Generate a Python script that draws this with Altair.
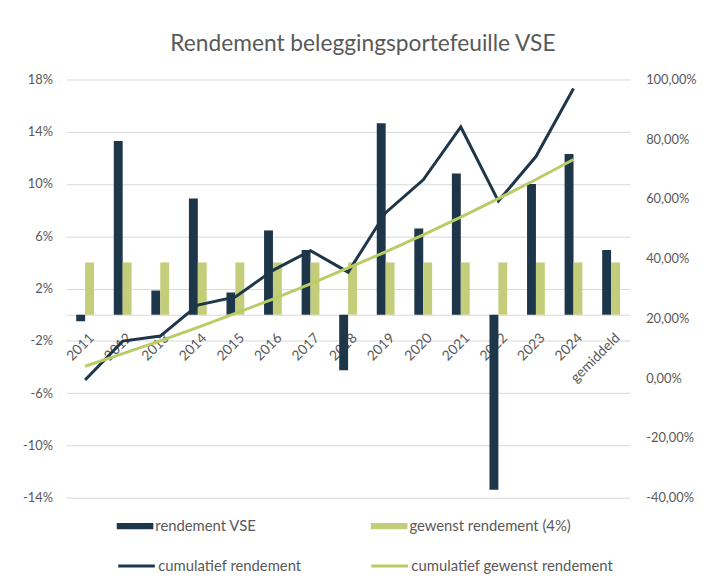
import altair as alt
import pandas as pd

years = ["2011", "2012", "2013", "2014", "2015", "2016", "2017", "2018",
         "2019", "2020", "2021", "2022", "2023", "2024", "gemiddeld"]
rendement_vse = [-0.5, 13.3, 1.85, 8.9, 1.7, 6.45, 4.95, -4.25,
                 14.65, 6.6, 10.8, -13.4, 10.0, 12.3, 4.95]
gewenst = [4.0, 4.0, 4.0, 4.0, 4.0, 4.0, 4.0, 4.0,
           4.0, 4.0, 4.0, 4.0, 4.0, 4.0, 4.0]
line_years = years[:14]
cum_rendement = [-0.6, 12.4, 14.1, 24.5, 27.2, 36.1, 42.7, 35.5,
                 55.4, 66.4, 84.1, 59.3, 74.2, 97.0]
cum_gewenst = [4.0, 8.2, 12.5, 17.0, 21.7, 26.5, 31.6, 36.9,
               42.3, 48.0, 53.9, 60.1, 66.5, 73.2]

bar_series = ["rendement VSE", "gewenst rendement (4%)"]
line_series = ["cumulatief rendement", "cumulatief gewenst rendement"]
left_ticks = [-14, -10, -6, -2, 2, 6, 10, 14, 18]
right_ticks = [-40, -20, 0, 20, 40, 60, 80, 100]

NAVY = "#1d3649"
GREEN_BAR = "#c4ce7a"
GREEN_LINE = "#b9cc66"
GREY = "#595959"
FONT = "Lato"

bars = pd.DataFrame(
    [{"jaar": y, "reeks": bar_series[0], "waarde": v} for y, v in zip(years, rendement_vse)]
    + [{"jaar": y, "reeks": bar_series[1], "waarde": v} for y, v in zip(years, gewenst)]
)
lines = pd.DataFrame(
    [{"jaar": y, "reeks": line_series[0], "waarde": v} for y, v in zip(line_years, cum_rendement)]
    + [{"jaar": y, "reeks": line_series[1], "waarde": v} for y, v in zip(line_years, cum_gewenst)]
)

x_enc = alt.X(
    "jaar:N", sort=years, title=None,
    scale=alt.Scale(domain=years, paddingInner=0.526, paddingOuter=0.263),
    axis=alt.Axis(labelAngle=-45, labelAlign="right", labelBaseline="middle",
                  labelPadding=21, labelOffset=7, ticks=False, tickSize=0, offset=-185,
                  domainColor="#d9d9d9", domainWidth=1, labelOverlap=False,
                  labelBound=False, labelColor=GREY, labelFontSize=14, labelFont=FONT,
                  grid=False),
)

bar_layer = alt.Chart(bars).mark_bar().encode(
    x=x_enc,
    xOffset=alt.XOffset("reeks:N", sort=bar_series,
                        scale=alt.Scale(domain=bar_series, paddingInner=0, paddingOuter=0)),
    y=alt.Y("waarde:Q", title=None,
            scale=alt.Scale(domain=[-14, 18], nice=False, zero=False),
            axis=alt.Axis(values=left_ticks, labelExpr="datum.value + '%'",
                          grid=True, gridColor="#d9d9d9", gridWidth=1,
                          domain=False, ticks=False, tickSize=0, labelPadding=14,
                          labelColor=GREY, labelFontSize=13, labelFont=FONT)),
    fill=alt.Fill("reeks:N", sort=bar_series,
                  scale=alt.Scale(domain=bar_series, range=[NAVY, GREEN_BAR]),
                  legend=alt.Legend(orient="none", legendX=51, legendY=433,
                                    direction="horizontal", columns=2, columnPadding=115,
                                    title=None, labelLimit=400,
                                    symbolType="M-1,-0.17H1V0.17H-1Z", symbolSize=1369,
                                    symbolStrokeWidth=0, labelOffset=2,
                                    labelFontSize=15, labelColor=GREY, labelFont=FONT)),
)

line_layer = alt.Chart(lines).mark_line(strokeWidth=3).encode(
    x=alt.X("jaar:N", sort=years, bandPosition=0.5),
    y=alt.Y("waarde:Q", title=None,
            scale=alt.Scale(domain=[-40, 100], nice=False, zero=False),
            axis=alt.Axis(orient="right", values=right_ticks,
                          labelExpr="datum.value + ',00%'", grid=False,
                          domain=False, ticks=False, tickSize=0, labelPadding=16,
                          labelColor=GREY, labelFontSize=13, labelFont=FONT)),
    stroke=alt.Stroke("reeks:N", sort=line_series,
                      scale=alt.Scale(domain=line_series, range=[NAVY, GREEN_LINE]),
                      legend=alt.Legend(orient="none", legendX=51, legendY=472,
                                        direction="horizontal", columns=2, columnPadding=64,
                                        title=None, labelLimit=400,
                                        symbolType="stroke", symbolSize=1369,
                                        symbolStrokeWidth=3, labelOffset=2,
                                        labelFontSize=15, labelColor=GREY, labelFont=FONT)),
    detail="reeks:N",
)

chart = alt.layer(bar_layer, line_layer).resolve_scale(
    y="independent", fill="independent", stroke="independent"
).properties(
    width=570, height=423,
    title=alt.TitleParams("Rendement beleggingsportefeuille VSE", fontSize=23,
                          font=FONT, fontWeight="normal", color=GREY,
                          anchor="middle", offset=18, dx=15),
    autosize=alt.AutoSizeParams(type="none"),
    padding={"left": 59, "top": 69, "right": 76, "bottom": 83},
).configure_view(strokeWidth=0)

chart.save("out.html", embed_options={"renderer": "svg", "actions": False})
